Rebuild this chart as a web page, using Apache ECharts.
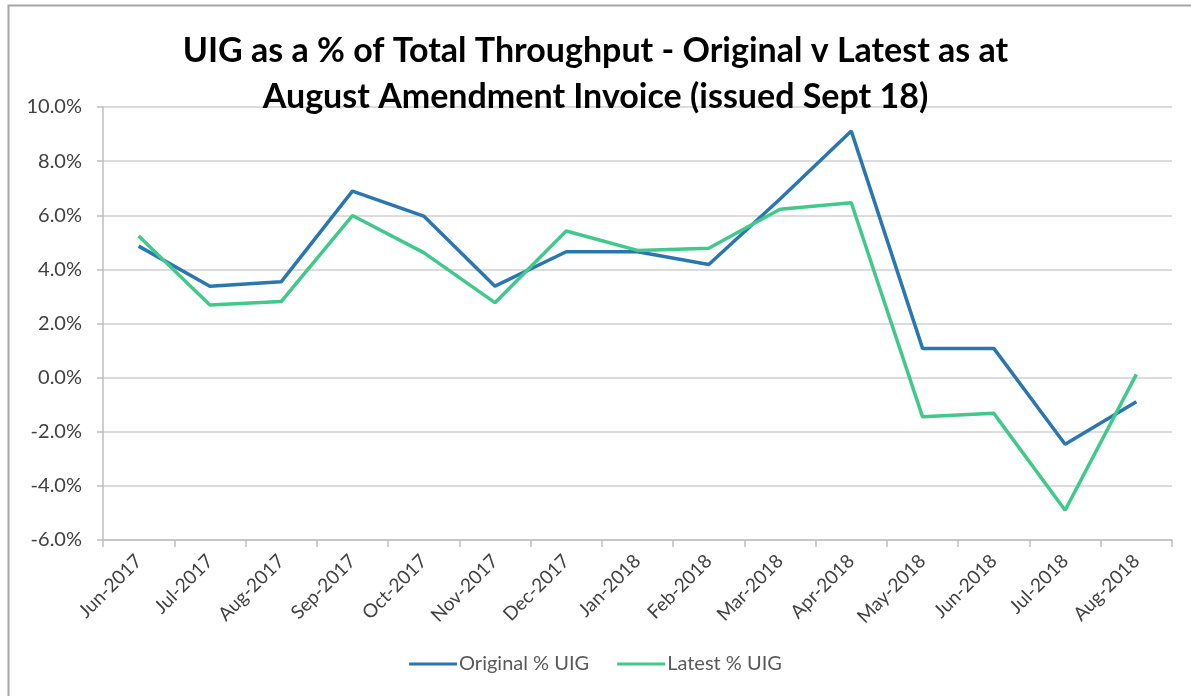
<!DOCTYPE html>
<html><head><meta charset="utf-8">
<script src="https://cdn.jsdelivr.net/npm/echarts@6/dist/echarts.min.js"></script>
<style>html,body{margin:0;padding:0;background:#fff;}#c{width:1191px;height:696px;}</style>
</head><body><div id="c"></div>
<script>
const categories = ["Jun-2017","Jul-2017","Aug-2017","Sep-2017","Oct-2017","Nov-2017","Dec-2017","Jan-2018","Feb-2018","Mar-2018","Apr-2018","May-2018","Jun-2018","Jul-2018","Aug-2018"];
const originalUIG = [4.86, 3.38, 3.54, 6.89, 5.97, 3.38, 4.65, 4.65, 4.18, 6.6, 9.11, 1.08, 1.08, -2.46, -0.89];
const latestUIG = [5.23, 2.68, 2.81, 5.99, 4.62, 2.77, 5.42, 4.7, 4.78, 6.22, 6.46, -1.45, -1.32, -4.9, 0.12];
const titleLines = ["UIG as a % of Total Throughput - Original v Latest as at", "August Amendment Invoice (issued Sept 18)"];
const seriesNames = ["Original % UIG", "Latest % UIG"];

const chart = echarts.init(document.getElementById('c'), null, {renderer:'canvas'});
const font = 'Lato, "Open Sans", sans-serif';
chart.setOption({
  animation:false,
  backgroundColor:'#fff',
  graphic:[{type:'rect', shape:{x:8.5,y:5.5,width:1200,height:720}, style:{fill:'none', stroke:'#a6a6a6', lineWidth:2}, silent:true}],
  title:{text:titleLines.join('\n'), left:'center', top:23, textStyle:{fontFamily:font, fontWeight:'bold', fontSize:34, color:'#000', lineHeight:46}},
  legend:{bottom:17, left:'center', itemWidth:48, itemHeight:3, itemGap:28, icon:'rect',
    textStyle:{fontFamily:font, fontSize:20, color:'#595959', padding:[0,0,0,-3]}, data:seriesNames},
  grid:{left:103, right:19, top:107, bottom:156, containLabel:false},
  xAxis:[
    {type:'category', data:categories, boundaryGap:true, position:'bottom',
      axisLine:{show:false}, axisTick:{show:false},
      axisLabel:{rotate:45, fontFamily:font, fontSize:19, color:'#404040', margin:18, interval:0}},
    {type:'category', data:categories, boundaryGap:true, position:'bottom',
      axisLine:{show:true, onZero:true, lineStyle:{color:'#bfbfbf', width:1.5}},
      axisTick:{show:true, length:7, lineStyle:{color:'#bfbfbf', width:1.5}, alignWithLabel:false},
      axisLabel:{show:false}, splitLine:{show:false}}
  ],
  yAxis:{type:'value', min:-6, max:10, interval:2,
    axisLine:{show:true, lineStyle:{color:'#bfbfbf', width:1.5}},
    axisTick:{show:true, length:6, lineStyle:{color:'#bfbfbf', width:1.5}},
    axisLabel:{formatter:v=>v.toFixed(1)+'%', fontFamily:font, fontSize:20, color:'#404040', margin:21},
    splitLine:{lineStyle:{color:'#d0d0d0', width:1.5}}},
  series:[
    {name:seriesNames[0], type:'line', data:originalUIG, xAxisIndex:0, symbol:'none', lineStyle:{color:'#2a77b0', width:3.5}, itemStyle:{color:'#2a77b0'}},
    {name:seriesNames[1], type:'line', data:latestUIG, xAxisIndex:0, symbol:'none', lineStyle:{color:'#40c98b', width:3.5}, itemStyle:{color:'#40c98b'}}
  ]
});
</script></body></html>
